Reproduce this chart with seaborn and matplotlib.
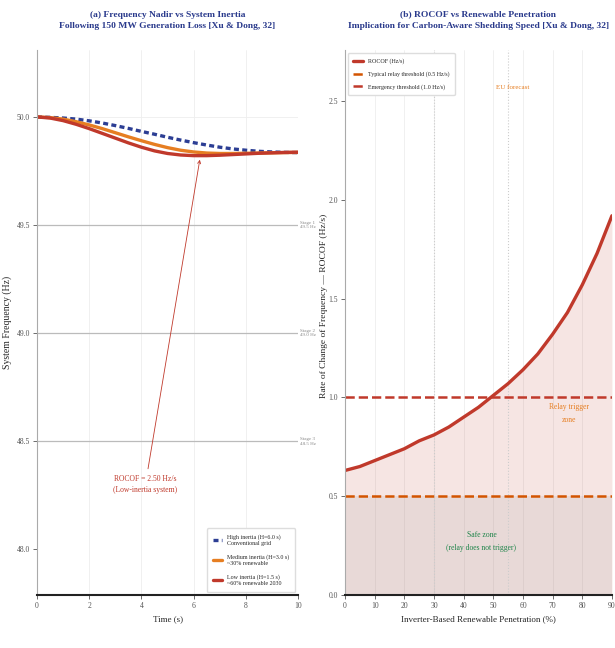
import matplotlib
matplotlib.use("Agg")
import matplotlib.pyplot as plt
import seaborn as sns
import numpy as np
import pandas as pd

# (a) frequency response after 150 MW loss
time_s = [0, 0.5, 1, 1.5, 2, 2.5, 3, 3.5, 4, 4.5, 5, 5.5, 6, 6.5, 7, 7.5, 8, 8.5, 9, 9.5, 10]
freq_high = [50.000, 49.998, 49.995, 49.990, 49.982, 49.972, 49.960, 49.947, 49.933, 49.920, 49.906,
             49.893, 49.881, 49.870, 49.860, 49.852, 49.846, 49.841, 49.838, 49.836, 49.835]
freq_med = [50.000, 49.997, 49.990, 49.978, 49.963, 49.946, 49.927, 49.908, 49.890, 49.873, 49.858,
            49.846, 49.838, 49.833, 49.831, 49.831, 49.832, 49.833, 49.834, 49.835, 49.836]
freq_low = [50.000, 49.995, 49.983, 49.966, 49.946, 49.924, 49.902, 49.880, 49.860, 49.843, 49.831,
            49.824, 49.821, 49.821, 49.823, 49.826, 49.829, 49.832, 49.834, 49.836, 49.837]
series_labels = ["High inertia (H=6.0 s)\nConventional grid",
                 "Medium inertia (H=3.0 s)\n~30% renewable",
                 "Low inertia (H=1.5 s)\n~60% renewable 2030"]
stage_freqs = [49.5, 49.0, 48.5]
stage_labels = ["Stage 1\n49.5 Hz", "Stage 2\n49.0 Hz", "Stage 3\n48.5 Hz"]

# (b) ROCOF vs penetration
penetration = [0, 5, 10, 15, 20, 25, 30, 35, 40, 45, 50, 55, 60, 65, 70, 75, 80, 85, 90]
rocof = [0.63, 0.65, 0.68, 0.71, 0.74, 0.78, 0.81, 0.85, 0.90, 0.95, 1.01, 1.07, 1.14, 1.22,
         1.32, 1.43, 1.57, 1.73, 1.92]
relay_thr = 0.5
emerg_thr = 1.0
marker_pens = [30, 55]

sns.set_style("whitegrid", {"grid.color": "#eeeeee", "axes.edgecolor": "#aaaaaa"})
plt.rcParams['font.family'] = ['Liberation Serif', 'DejaVu Sans']

title_col = "#2a3a8c"
c_high, c_med, c_low = "#2c3e94", "#e67e22", "#c0392b"

fig = plt.figure(figsize=(6.15, 6.48), dpi=100)
ax1 = fig.add_axes([0.060, 0.082, 0.425, 0.841])
ax2 = fig.add_axes([0.561, 0.082, 0.434, 0.841])

# ---- panel (a)
sns.lineplot(x=time_s, y=freq_high, ax=ax1, color=c_high, lw=2.4, label=series_labels[0])
ax1.lines[-1].set_linestyle((0, (1.5, 1)))
sns.lineplot(x=time_s, y=freq_med, ax=ax1, color=c_med, lw=2.4, label=series_labels[1])
sns.lineplot(x=time_s, y=freq_low, ax=ax1, color=c_low, lw=2.4, label=series_labels[2])

for f, lab in zip(stage_freqs, stage_labels):
    ax1.axhline(f, color="#bbbbbb", lw=0.9, zorder=1)
    ax1.text(10.05, f, lab, fontsize=3.6, color="#888888", ha="left", va="center", clip_on=False)

ax1.annotate("ROCOF = 2.50 Hz/s\n(Low-inertia system)", xy=(6.25, 49.815), xytext=(4.15, 48.30),
             fontsize=5.5, color=c_low, ha="center", va="center", linespacing=1.6,
             arrowprops=dict(arrowstyle="->", color=c_low, lw=0.6))

ax1.set_xlim(0, 10)
ax1.set_ylim(47.79, 50.31)
ax1.set_xticks([0, 2, 4, 6, 8, 10])
ax1.set_yticks([48.0, 48.5, 49.0, 49.5, 50.0])
ax1.yaxis.set_major_formatter(matplotlib.ticker.FormatStrFormatter('%.1f'))
ax1.set_xlabel("Time (s)", fontsize=6.5)
ax1.set_ylabel("System Frequency (Hz)", fontsize=7, labelpad=3)
ax1.set_title("(a) Frequency Nadir vs System Inertia\nFollowing 150 MW Generation Loss [Xu & Dong, 32]",
              fontsize=6.8, fontweight="bold", color=title_col, pad=16, linespacing=1.5)
ax1.legend(loc="lower right", fontsize=4.3, frameon=True, framealpha=1, edgecolor="#dddddd",
           labelspacing=1.4, borderpad=1.0, handlelength=1.6)

# ---- panel (b)
ax2.fill_between(penetration, 0, rocof, color=c_low, alpha=0.13, lw=0)
ax2.axhspan(0, relay_thr, color="#999999", alpha=0.15, lw=0)
for p in marker_pens:
    ax2.axvline(p, color="#cccccc", lw=0.8, ls=":")
sns.lineplot(x=penetration, y=rocof, ax=ax2, color=c_low, lw=2.4, label="ROCOF (Hz/s)")
ax2.axhline(relay_thr, color="#d35400", lw=1.8, ls="--", label="Typical relay threshold (0.5 Hz/s)")
ax2.axhline(emerg_thr, color=c_low, lw=1.8, ls="--", label="Emergency threshold (1.0 Hz/s)")

ax2.text(56.5, 2.57, "EU forecast", fontsize=5, color=c_med, ha="center", va="center")
ax2.text(75.5, 0.92, "Relay trigger\nzone", fontsize=5.5, color=c_med, ha="center", va="center",
         linespacing=1.8)
ax2.text(46, 0.27, "Safe zone\n(relay does not trigger)", fontsize=5.5, color="#1e8449",
         ha="center", va="center", linespacing=1.8)

ax2.set_xlim(0, 90)
ax2.set_ylim(0, 2.76)
ax2.set_xticks(range(0, 91, 10))
ax2.set_yticks([0.0, 0.5, 1.0, 1.5, 2.0, 2.5])
ax2.yaxis.set_major_formatter(matplotlib.ticker.FormatStrFormatter('%.1f'))
ax2.set_xlabel("Inverter-Based Renewable Penetration (%)", fontsize=6.5)
ax2.set_ylabel("Rate of Change of Frequency — ROCOF (Hz/s)", fontsize=6.8, labelpad=1)
ax2.yaxis.set_label_coords(-0.065, 0.53)
ax2.set_title("(b) ROCOF vs Renewable Penetration\nImplication for Carbon-Aware Shedding Speed [Xu & Dong, 32]",
              fontsize=6.8, fontweight="bold", color=title_col, pad=16, linespacing=1.5)
ax2.legend(loc="upper left", fontsize=4.3, frameon=True, framealpha=1, edgecolor="#dddddd",
           labelspacing=1.2, borderpad=0.9, handlelength=1.6)

for ax in (ax1, ax2):
    ax.grid(axis="y", visible=False)
    ax.grid(axis="x", color="#eeeeee", lw=0.6)
    ax.spines["top"].set_visible(False)
    ax.spines["right"].set_visible(False)
    ax.spines["bottom"].set_color("#222222")
    ax.spines["bottom"].set_linewidth(1.5)
    ax.spines["left"].set_color("#aaaaaa")
    ax.tick_params(axis="both", labelsize=5.5, length=3, width=0.6, colors="#555555",
                   bottom=True, left=True, pad=2)
ax1.axhline(50.0, color="#eeeeee", lw=0.6, zorder=0)

fig.savefig("out.png", dpi=100)
